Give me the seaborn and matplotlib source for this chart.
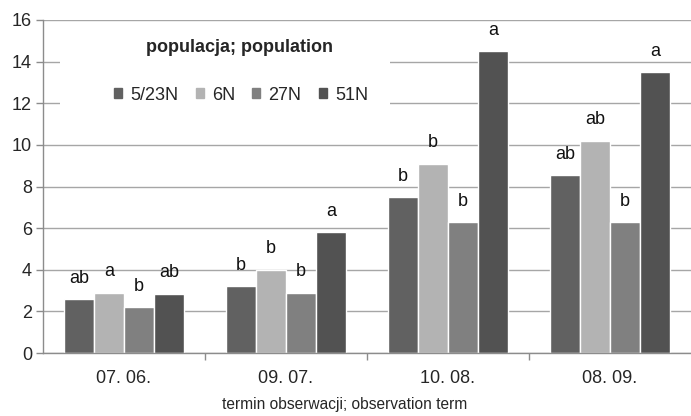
import matplotlib
matplotlib.use("Agg")
import matplotlib.pyplot as plt
import seaborn as sns
import pandas as pd
import numpy as np

terms = ["07. 06.", "09. 07.", "10. 08.", "08. 09."]
populations = ["5/23N", "6N", "27N", "51N"]
v_5_23N = [2.6, 3.2, 7.5, 8.55]
v_6N = [2.9, 4.0, 9.1, 10.2]
v_27N = [2.2, 2.9, 6.3, 6.3]
v_51N = [2.85, 5.8, 14.5, 13.5]
lab_5_23N = ["ab", "b", "b", "ab"]
lab_6N = ["a", "b", "b", "ab"]
lab_27N = ["b", "b", "b", "b"]
lab_51N = ["ab", "a", "a", "a"]
yticks = [0, 2, 4, 6, 8, 10, 12, 14, 16]

colors = ["#616161", "#b3b3b3", "#808080", "#525252"]

sns.set_theme(style="white")
plt.rcParams['font.family'] = ['Liberation Sans', 'DejaVu Sans']

values = [v_5_23N, v_6N, v_27N, v_51N]
labels = [lab_5_23N, lab_6N, lab_27N, lab_51N]
rows = []
for p, vals, labs in zip(populations, values, labels):
    for t, v, l in zip(terms, vals, labs):
        rows.append({"term": t, "pop": p, "value": v, "lab": l})
df = pd.DataFrame(rows)

fig = plt.figure(figsize=(6.91, 4.16), dpi=100)
ax = fig.add_axes([43/691, 1 - 353/416, 1 - 43/691, 333/416])

sns.barplot(data=df, x="term", y="value", hue="pop", order=terms,
            hue_order=populations, palette=colors, width=0.74,
            saturation=1, errorbar=None, ax=ax, legend=False)

for cont, labs in zip(ax.containers, labels):
    for bar, l in zip(cont, labs):
        x = bar.get_x() + bar.get_width() / 2
        ax.text(x, bar.get_height() + 1.0, l, ha="center", va="center",
                fontsize=13, color="#111111")

ax.set_ylim(0, 16)
ax.set_xlim(-0.5, 3.5)
ax.set_yticks(yticks)
ax.set_yticklabels([str(t) for t in yticks], fontsize=13)
ax.tick_params(axis="y", length=5, width=1, color="#8c8c8c", pad=3, left=True)
ax.tick_params(axis="x", which="major", length=0, labelsize=13, pad=12)
ax.set_xticks([0.5, 1.5, 2.5], minor=True)
ax.tick_params(axis="x", which="minor", length=5, width=1, color="#8c8c8c", bottom=True)
ax.yaxis.grid(True, color="#a6a6a6", linewidth=1)
ax.set_axisbelow(True)
for s in ["top", "right"]:
    ax.spines[s].set_visible(False)
for s in ["left", "bottom"]:
    ax.spines[s].set_color("#8c8c8c")
    ax.spines[s].set_linewidth(1)
ax.set_ylabel("")
ax.set_xlabel("termin obserwacji; observation term", fontsize=11.2)
ax.xaxis.set_label_coords((345 - 43) / 648, -52 / 333)
ax.xaxis.label.set_va("center")

# white legend area covering the gridlines
ax.add_patch(plt.Rectangle((60/691, 1 - 125/416), 330/691, 97/416,
                           transform=fig.transFigure, facecolor="white",
                           edgecolor="none", zorder=0.8))

ax.text(240/691, 1 - 47/416, "populacja; population", transform=fig.transFigure,
        ha="center", va="center", fontsize=13, fontweight="bold")
handles = [plt.Rectangle((0, 0), 1, 1, color=c) for c in colors]
fig.legend(handles, populations, loc="center left", ncol=4,
           bbox_to_anchor=(114/691, 1 - 95/416), frameon=False,
           fontsize=13, handlelength=0.45, handleheight=0.45, handletextpad=0.45,
           columnspacing=0.95, borderaxespad=0, borderpad=0)

fig.savefig("out.png", dpi=100)
